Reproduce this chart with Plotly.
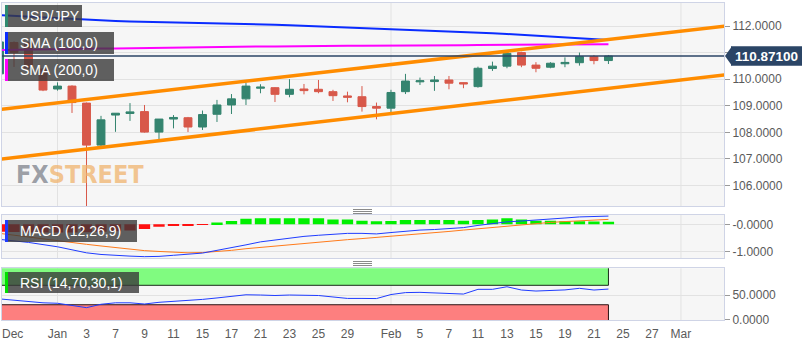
import plotly.graph_objects as go

W, H = 808, 347

# ---------------- data ----------------
dates = ["2018-12-26", "2018-12-27", "2018-12-28", "2018-12-31",
         "2019-01-01", "2019-01-02", "2019-01-03", "2019-01-04", "2019-01-07", "2019-01-08",
         "2019-01-09", "2019-01-10", "2019-01-11", "2019-01-14", "2019-01-15", "2019-01-16",
         "2019-01-17", "2019-01-18", "2019-01-21", "2019-01-22", "2019-01-23", "2019-01-24",
         "2019-01-25", "2019-01-28", "2019-01-29", "2019-01-30", "2019-01-31",
         "2019-02-01", "2019-02-04", "2019-02-05", "2019-02-06", "2019-02-07", "2019-02-08",
         "2019-02-11", "2019-02-12", "2019-02-13", "2019-02-14", "2019-02-15", "2019-02-18",
         "2019-02-19", "2019-02-20", "2019-02-21", "2019-02-22"]
future_days = ["2019-02-25", "2019-02-26", "2019-02-27", "2019-02-28",
               "2019-03-01", "2019-03-04", "2019-03-05", "2019-03-06"]

opens = [110.20, 111.38, 111.36, 110.38, 109.63, 109.74, 109.10, 107.52, 108.65, 108.71,
         108.78, 108.01, 108.50, 108.55, 108.20, 108.68, 109.03, 109.26, 109.66, 109.68,
         109.43, 109.63, 109.62, 109.53, 109.37, 109.34, 108.97, 108.91, 109.53, 109.90,
         109.91, 109.97, 109.87, 109.72, 110.40, 110.49, 111.00, 110.53, 110.45, 110.58,
         110.62, 110.85, 110.70]
highs = [111.45, 111.42, 111.40, 110.42, 109.88, 109.77, 109.12, 108.62, 108.72, 109.10,
         109.03, 108.50, 108.65, 108.58, 108.82, 109.22, 109.44, 109.87, 109.81, 109.70,
         110.00, 109.82, 109.97, 109.60, 109.53, 109.74, 109.12, 109.60, 110.20, 110.06,
         110.12, 110.12, 109.88, 110.47, 110.66, 111.01, 111.03, 110.64, 110.64, 110.82,
         111.00, 110.91, 110.91]
lows = [110.10, 110.46, 110.38, 109.55, 109.57, 108.73, 104.87, 107.48, 108.02, 108.43,
        107.99, 107.75, 108.15, 108.01, 108.09, 108.39, 108.69, 109.03, 109.47, 109.14,
        109.32, 109.43, 109.47, 109.18, 109.13, 108.78, 108.49, 108.76, 109.44, 109.78,
        109.56, 109.62, 109.66, 109.68, 110.31, 110.41, 110.45, 110.26, 110.41, 110.45,
        110.51, 110.56, 110.57]
closes = [111.40, 111.00, 110.42, 109.59, 109.74, 109.12, 107.52, 108.47, 108.72, 108.77,
          108.01, 108.50, 108.56, 108.20, 108.67, 109.03, 109.26, 109.74, 109.70, 109.43,
          109.62, 109.57, 109.53, 109.38, 109.32, 108.97, 108.91, 109.50, 109.93, 109.94,
          109.97, 109.85, 109.82, 110.41, 110.49, 110.97, 110.53, 110.41, 110.60, 110.63,
          110.85, 110.70, 110.871]

sma100 = [112.41, 112.38, 112.35, 112.32, 112.29, 112.26, 112.24, 112.21, 112.19, 112.17,
          112.16, 112.14, 112.13, 112.12, 112.10, 112.09, 112.08, 112.07, 112.06, 112.05,
          112.03, 112.01, 111.99, 111.97, 111.95, 111.93, 111.91, 111.88, 111.86, 111.84,
          111.82, 111.80, 111.78, 111.76, 111.73, 111.70, 111.67, 111.64, 111.60, 111.57,
          111.53, 111.50, 111.47]
sma200 = [111.10, 111.11, 111.12, 111.12, 111.13, 111.14, 111.14, 111.15, 111.15, 111.16,
          111.17, 111.18, 111.19, 111.20, 111.20, 111.21, 111.22, 111.22, 111.23, 111.23,
          111.24, 111.24, 111.25, 111.25, 111.26, 111.26, 111.26, 111.27, 111.27, 111.27,
          111.28, 111.28, 111.28, 111.29, 111.29, 111.29, 111.30, 111.30, 111.30, 111.30,
          111.31, 111.31, 111.31]

trend_dates = ["2018-12-26", "2019-03-06"]
trend_upper = [108.86, 111.99]
trend_lower = [106.99, 110.16]

macd_hist = [-0.27, -0.28, -0.30, -0.30, -0.30, -0.30, -0.29, -0.27, -0.25, -0.23,
             -0.17, -0.09, -0.06, -0.04, -0.01, 0.07, 0.12, 0.20, 0.22, 0.22,
             0.22, 0.22, 0.22, 0.18, 0.18, 0.13, 0.11, 0.12, 0.16, 0.16,
             0.16, 0.16, 0.13, 0.16, 0.18, 0.22, 0.18, 0.13, 0.13, 0.11,
             0.11, 0.10, 0.09]
macd_line = [-0.55, -0.60, -0.66, -0.74, -0.82, -0.93, -1.04, -1.10, -1.14, -1.16,
             -1.18, -1.17, -1.13, -1.09, -1.05, -0.95, -0.86, -0.75, -0.64, -0.57,
             -0.50, -0.44, -0.40, -0.37, -0.33, -0.33, -0.35, -0.30, -0.25, -0.21,
             -0.19, -0.15, -0.12, -0.04, 0.02, 0.09, 0.12, 0.15, 0.19, 0.23,
             0.27, 0.29, 0.30]
macd_signal = [-0.33, -0.40, -0.47, -0.54, -0.60, -0.67, -0.73, -0.79, -0.85, -0.91,
               -0.96, -0.99, -1.02, -1.04, -1.03, -1.00, -0.95, -0.89, -0.84, -0.79,
               -0.74, -0.69, -0.65, -0.60, -0.56, -0.52, -0.48, -0.44, -0.40, -0.36,
               -0.30, -0.26, -0.21, -0.16, -0.11, -0.06, -0.01, 0.04, 0.07, 0.10,
               0.13, 0.16, 0.18]
rsi = [42, 39, 36.5, 34, 33, 29, 24, 31, 34, 34,
       31.5, 35, 37, 38, 41, 44, 47, 50.5, 50, 49,
       50, 49.5, 49, 46, 43, 43, 42.7, 51, 55, 55.5,
       54.5, 53, 52, 61.7, 61.7, 67, 60.3, 58.2, 59.5, 60.5,
       63.8, 60.3, 62.3]
rsi_overbought = 70
rsi_oversold = 30

tick_dates = ["2019-01-01", "2019-01-03", "2019-01-07", "2019-01-09", "2019-01-11",
              "2019-01-15", "2019-01-17", "2019-01-21", "2019-01-23", "2019-01-25",
              "2019-01-29", "2019-02-01", "2019-02-05", "2019-02-07", "2019-02-11",
              "2019-02-13", "2019-02-15", "2019-02-19", "2019-02-21", "2019-02-25",
              "2019-02-27", "2019-03-01"]
tick_text = ["Jan", "3", "7", "9", "11", "15", "17", "21", "23", "25", "29",
             "Feb", "5", "7", "11", "13", "15", "19", "21", "25", "27", "Mar"]
first_month_label = "Dec"
month_starts = ["2019-01-01", "2019-02-01", "2019-03-01"]
price_ticks = [106, 107, 108, 109, 110, 111, 112]
hidden_price_ticks = [111]

# ---------------- helpers ----------------
axis_days = dates + future_days
pos = {d: i for i, d in enumerate(axis_days)}
X = [pos[d] for d in dates]
last_price = closes[-1]


def px(x):
    return x / W


def py(y):
    return 1 - y / H


GRID = "#e2e2e2"
BORDER = "#cfd4e6"
TXT = "#5a5a5a"
FONT = "Liberation Sans, Arial, sans-serif"
UP = "#34846f"
DOWN = "#d8584a"

fig = go.Figure()

# main panel
fig.add_trace(go.Scatter(x=[pos[d] for d in trend_dates], y=trend_lower, mode="lines",
                         line=dict(color="#ff8c00", width=3.5), xaxis="x", yaxis="y",
                         hoverinfo="skip"))
fig.add_trace(go.Scatter(x=X, y=sma200, mode="lines", line=dict(color="#ff00ff", width=2),
                         xaxis="x", yaxis="y"))
fig.add_trace(go.Scatter(x=X, y=sma100, mode="lines", line=dict(color="#0a2cff", width=2),
                         xaxis="x", yaxis="y"))
fig.add_trace(go.Candlestick(x=X, open=opens, high=highs, low=lows, close=closes,
                             increasing=dict(line=dict(color=UP, width=1), fillcolor=UP),
                             decreasing=dict(line=dict(color=DOWN, width=1), fillcolor=DOWN),
                             xaxis="x", yaxis="y"))
fig.add_trace(go.Scatter(x=[pos[d] for d in trend_dates], y=trend_upper, mode="lines",
                         line=dict(color="#ff8c00", width=3.5), xaxis="x", yaxis="y",
                         hoverinfo="skip"))

# MACD panel
fig.add_trace(go.Bar(x=X, y=macd_hist, width=0.78,
                     marker=dict(color=["#00f000" if v >= 0 else "#ff1010" for v in macd_hist],
                                 line=dict(width=0)),
                     xaxis="x2", yaxis="y2"))
fig.add_trace(go.Scatter(x=X, y=macd_signal, mode="lines", line=dict(color="#ff7a1a", width=1),
                         xaxis="x2", yaxis="y2"))
fig.add_trace(go.Scatter(x=X, y=macd_line, mode="lines", line=dict(color="#1f3cff", width=1),
                         xaxis="x2", yaxis="y2"))

# RSI panel
fig.add_trace(go.Scatter(x=X, y=rsi, mode="lines", line=dict(color="#1f3cff", width=1),
                         xaxis="x3", yaxis="y3"))

x_domain = [px(2), px(724)]
x_range = [0.172, 49.97]

common_x = dict(domain=x_domain, range=x_range, showgrid=False, zeroline=False,
                showline=True, mirror=True, linecolor=BORDER, linewidth=1, fixedrange=True,
                automargin=False)
common_y = dict(side="right", showline=True, mirror=True, linecolor=BORDER, linewidth=1,
                gridcolor=GRID, gridwidth=1, zeroline=False, ticks="outside", ticklen=5,
                tickcolor="#9a9a9a", tickfont=dict(family=FONT, size=12, color=TXT),
                fixedrange=True, automargin=False)

layout = dict(
    width=W, height=H, margin=dict(l=0, r=0, t=0, b=0, pad=0, autoexpand=False),
    paper_bgcolor="white", plot_bgcolor="#f6f6f6", showlegend=False,
    boxgap=0.22,
    font=dict(family=FONT, color=TXT, size=12),
    xaxis=dict(common_x, anchor="y", showticklabels=False, rangeslider=dict(visible=False)),
    yaxis=dict(common_y, anchor="x", domain=[py(206), py(3)], range=[105.23, 112.865],
               tickvals=price_ticks,
               ticktext=["" if v in hidden_price_ticks else f"{v:.4f}" for v in price_ticks]),
    xaxis2=dict(common_x, anchor="y2", matches="x", showticklabels=False),
    yaxis2=dict(common_y, anchor="x2", domain=[py(258.3), py(215)], range=[-1.24, 0.34],
                tickvals=[0, -1], ticktext=["-0.0000", "-1.0000"]),
    xaxis3=dict(common_x, anchor="y3", matches="x", showticklabels=True,
                tickvals=[pos[d] for d in tick_dates], ticktext=tick_text,
                ticks="", tickfont=dict(family=FONT, size=12, color=TXT),
                ticklabelstandoff=3),
    yaxis3=dict(common_y, anchor="x3", domain=[py(320), py(268.3)], range=[-1.4, 105],
                tickvals=[0, 50], ticktext=["0.0000", "50.0000"]),
)
fig.update_layout(**layout)

shapes = []
# month grid lines in each panel
for xa, ya in (("x", "y"), ("x2", "y2"), ("x3", "y3")):
    for d in month_starts:
        shapes.append(dict(type="line", xref=xa, yref=f"{ya} domain", x0=pos[d], x1=pos[d],
                           y0=0, y1=1, line=dict(color=GRID, width=1), layer="below"))

# RSI bands
shapes.append(dict(type="rect", xref="x3", yref="y3", x0=-5, x1=X[-1], y0=rsi_overbought,
                   y1=200, fillcolor="#80fb80", line=dict(color="#1b2a1b", width=1),
                   layer="below"))
shapes.append(dict(type="rect", xref="x3", yref="y3", x0=-5, x1=X[-1], y0=-50,
                   y1=rsi_oversold, fillcolor="#fd7f7f", line=dict(color="#2a1414", width=1),
                   layer="below"))

# last-price line
shapes.append(dict(type="line", xref="x domain", yref="y", x0=0, x1=1, y0=last_price,
                   y1=last_price, line=dict(color="#2b4566", width=1.3), layer="above"))
# price tag arrow + box
shapes.append(dict(type="path", xref="paper", yref="y",
                   path=f"M {px(725)},{last_price} L {px(732)},{last_price + 0.37} "
                        f"L {px(732)},{last_price - 0.37} Z",
                   fillcolor="#2b4566", line=dict(width=0), layer="above"))
shapes.append(dict(type="rect", xref="paper", yref="y", x0=px(731), x1=px(802),
                   y0=last_price - 0.37, y1=last_price + 0.37,
                   fillcolor="#2b4566", line=dict(width=0), layer="above"))

# indicator label boxes
labels = [
    ("USD/JPY", 5, 82, 5, 27, "#2f8a70"),
    ("SMA (100,0)", 5, 114, 32, 54, "#0a2cff"),
    ("SMA (200,0)", 5, 114, 59, 81, "#ff00ff"),
    ("MACD (12,26,9)", 5, 137, 220, 242, "#1f3cff"),
    ("RSI (14,70,30,1)", 5, 139, 272, 293, "#00e000"),
]
annotations = []
for text, x0, x1, y0, y1, col in labels:
    shapes.append(dict(type="rect", xref="paper", yref="paper", x0=px(x0), x1=px(x1),
                       y0=py(y1), y1=py(y0), fillcolor="rgba(58,58,58,0.80)",
                       line=dict(width=0), layer="above"))
    shapes.append(dict(type="rect", xref="paper", yref="paper", x0=px(x0), x1=px(x0 + 3),
                       y0=py(y1), y1=py(y0), fillcolor=col, line=dict(width=0),
                       layer="above"))
    annotations.append(dict(text=text, xref="paper", yref="paper", x=px(18),
                            y=py((y0 + y1) / 2), xanchor="left", yanchor="middle",
                            showarrow=False, font=dict(family=FONT, size=14, color="white")))

# drag handles between panels
for ys in ((209.5, 211.5, 213.5), (261.5, 263.5, 265.5)):
    for yy in ys:
        shapes.append(dict(type="line", xref="paper", yref="paper", x0=px(353), x1=px(372),
                           y0=py(yy), y1=py(yy), line=dict(color="#8a8a8a", width=1)))

# first (clipped) month label on the date axis
annotations.append(dict(text=first_month_label, xref="paper", yref="paper", x=px(0),
                        y=py(334), xanchor="left", yanchor="middle", showarrow=False,
                        font=dict(family=FONT, size=12, color=TXT)))

# price tag text
annotations.append(dict(text=f"<b>{last_price:.5f}</b>", xref="paper", yref="y",
                        x=px(766.5), y=last_price, xanchor="center", yanchor="middle",
                        showarrow=False, font=dict(family=FONT, size=13.5, color="white")))

# watermark
annotations.append(dict(text="<span style='color:rgba(140,143,152,0.85)'>FX</span>"
                             "<span style='color:rgba(240,180,110,0.75)'>STREET</span>",
                        xref="paper", yref="paper", x=px(14), y=py(174), xanchor="left",
                        yanchor="middle", showarrow=False,
                        font=dict(family="DejaVu Sans Condensed, Liberation Sans Narrow, sans-serif",
                                  size=25, weight="bold")))

fig.update_layout(shapes=shapes, annotations=annotations)
fig.write_html("out.html")
